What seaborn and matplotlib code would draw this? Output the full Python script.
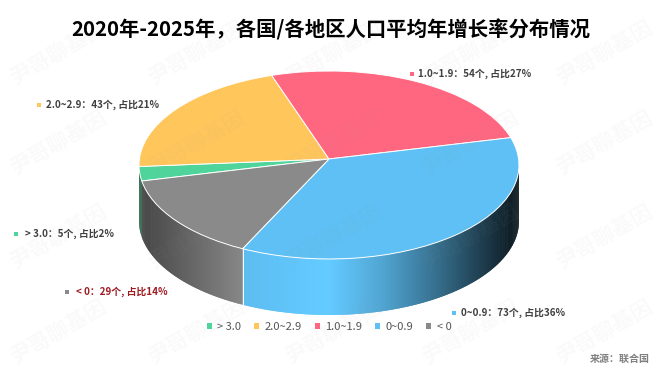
import numpy as np
import matplotlib
matplotlib.use("Agg")
import matplotlib.pyplot as plt
import seaborn as sns
from matplotlib.patches import Patch
from matplotlib.transforms import Transform

categories = ["> 3.0", "2.0~2.9", "1.0~1.9", "0~0.9", "< 0"]
counts = [5, 43, 54, 73, 29]
shares = [2, 21, 27, 36, 14]
colors = sns.color_palette(["#4FD49B", "#FFC65C", "#FF6680", "#5EC0F4", "#8A8A8A"])

# pixel geometry of the tilted disc
CX, CY, RX, RY, TILT, DEPTH = 329, 159, 189.6, 93.6, 0.0638, 56
START = 193.4

# brightness of the side wall against horizontal position
SHADE_X = [-1.0, -0.45, 0.0, 0.3, 0.6, 0.85, 1.0]
SHADE_V = [0.5, 0.98, 1.06, 0.85, 0.55, 0.28, 0.12]

marker_x = [16, 39, 412, 454, 67]
text_x = [25, 46, 418, 461, 76]
label_y = [234, 105, 74, 313, 292]
label_colors = ["#404040", "#404040", "#404040", "#404040", "#9E1B22"]
watermark_x = [58, 196, 333, 470, 604]
watermark_y = [53, 143, 237, 332]

FONT = ["Noto Sans CJK SC", "DejaVu Sans"]


class Tilt(Transform):
    input_dims = output_dims = 2

    def transform_non_affine(self, values):
        x, y = np.asarray(values).T
        w = 1 + TILT * y
        return np.column_stack((CX + RX * x / w, CY - RY * y / w))


sns.set_theme(style="white")
plt.rcParams["font.family"] = FONT

fig = plt.figure(figsize=(6.6, 3.72), dpi=100)
ax = fig.add_axes([0, 0, 1, 1])

tilt = Tilt()
wedges, _ = ax.pie(counts, colors=colors, startangle=START, counterclock=False,
                   wedgeprops={"edgecolor": "white", "linewidth": 0.7, "zorder": 3})
for w in wedges:
    w.set_transform(tilt + ax.transData)

ax.set_aspect("auto")
ax.set_xlim(0, 660)
ax.set_ylim(372, 0)
ax.axis("off")

# side wall, split into thin strips so it can carry the shading
edges = START - np.cumsum([0] + counts) / sum(counts) * 360
for i, c in enumerate(colors):
    angles = np.radians(np.append(np.arange(edges[i], edges[i + 1], -0.5), edges[i + 1]))
    angles = angles[np.sin(angles) < -TILT]
    if len(angles) < 2:
        continue
    pts = tilt.transform(np.column_stack((np.cos(angles), np.sin(angles))))
    for j in range(len(pts) - 1):
        a, b = pts[j], pts[min(j + 2, len(pts) - 1)]
        v = np.interp((a[0] - CX) / RX, SHADE_X, SHADE_V)
        shade = np.clip(np.array(c) * v, 0, 1)
        ax.fill([a[0], b[0], b[0], a[0]], [a[1], b[1], b[1] + DEPTH, a[1] + DEPTH],
                color=shade, lw=0, zorder=1)
    if i == 3:
        ax.plot([pts[-1][0]] * 2, [pts[-1][1], pts[-1][1] + DEPTH], color="white", lw=0.7, zorder=2)

ax.text(331, 30, "2020年-2025年，各国/各地区人口平均年增长率分布情况", ha="center", va="center",
        fontsize=14.7, fontweight="bold", color="black")

for cat, n, s, mx, tx, y, c, lc in zip(categories, counts, shares, marker_x, text_x, label_y, colors, label_colors):
    ax.plot([mx], [y], marker="s", ms=2.6, color=c, mew=0, zorder=4)
    ax.text(tx, y, f"{cat}：{n}个, 占比{s}%", ha="left", va="center", fontsize=7.1,
            fontweight="bold", color=lc, zorder=4)

handles = [Patch(facecolor=c, edgecolor="none") for c in colors]
ax.legend(handles, categories, ncol=5, frameon=False, loc="center", bbox_to_anchor=(329 / 660, 1 - 327 / 372),
          fontsize=8, handlelength=0.45, handleheight=0.45, handletextpad=0.5, columnspacing=1.15,
          labelcolor="#555555")

ax.text(650, 359, "来源：联合国", ha="right", va="center", fontsize=7.2, fontweight="bold", color="#808080")

for y in watermark_y:
    for x in watermark_x:
        ax.text(x, y, "尹哥聊基因", ha="center", va="center", rotation=30, fontsize=15.5,
                fontweight="bold", color="#999999", alpha=0.05, zorder=5)

fig.savefig("out.png", dpi=100)
